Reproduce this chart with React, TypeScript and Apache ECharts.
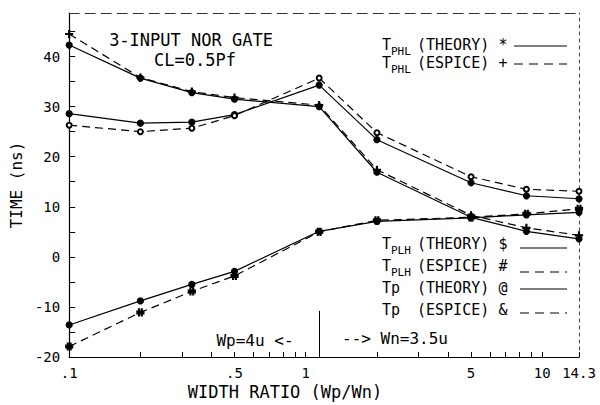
import React, { useEffect, useRef } from "react";
import * as echarts from "echarts";

// ---- data ----
const widthRatios = [0.1, 0.2, 0.33, 0.5, 1.14, 2, 5, 8.57, 14.3];
const tphlTheory = [42.3, 35.7, 32.8, 31.5, 30.0, 16.9, 7.9, 5.1, 3.6];
const tphlEspice = [44.5, 35.8, 33.0, 31.8, 30.3, 17.4, 8.3, 5.8, 4.3];
const tplhTheory = [-13.6, -8.8, -5.5, -2.9, 5.1, 7.1, 7.8, 8.4, 8.9];
const tplhEspice = [-17.9, -11.1, -6.9, -3.8, 5.0, 7.3, 7.9, 8.6, 9.6];
const tpTheory = [28.6, 26.7, 26.9, 28.4, 34.3, 23.4, 14.8, 12.2, 11.6];
const tpEspice = [26.3, 25.0, 25.7, 28.2, 35.7, 24.8, 16.0, 13.5, 13.1];

const xLabelValues = [0.1, 0.5, 1, 5, 10, 14.3];
const xTickValues = [0.1, 0.2, 0.3, 0.4, 0.5, 0.6, 0.7, 0.8, 0.9, 1, 2, 3, 4, 5, 6, 7, 8, 9, 10, 14.3];
const yMin = -20;
const yMax = 48.7;
const yTickStep = 5;
const yLabelStep = 10;
const switchRatio = 1.14;
const switchMarkTop = -10.8;

const FONT = '"DejaVu Sans Mono", "Liberation Mono", monospace';

const pairs = (ys: number[]) => widthRatios.map((x, i) => [x, ys[i]]);

export default function App() {
  const ref = useRef<HTMLDivElement>(null);
  useEffect(() => {
    if (!ref.current) return;
    const chart = echarts.init(ref.current, undefined, { renderer: "svg" });
    const solid = { color: "#000", width: 1.2, type: "solid" as const };
    const dashed = { color: "#000", width: 1.2, type: [8, 5] as any };
    const plusPath = "path://M-0.4,-3H0.4V-0.4H3V0.4H0.4V3H-0.4V0.4H-3V-0.4H-0.4Z";
    const hashPath =
      "path://M-1.6,-3H-0.8V-1.2H0.8V-3H1.6V-1.2H3V-0.4H1.6V0.4H3V1.2H1.6V3H0.8V1.2H-0.8V3H-1.6V1.2H-3V0.4H-1.6V-0.4H-3V-1.2H-1.6Z";

    const mkSeries = (name: string, ys: number[], ls: any, symbol: string, size: number, extra: any = {}) => ({
      name,
      type: "line",
      data: pairs(ys),
      lineStyle: ls,
      symbol,
      symbolSize: size,
      itemStyle: { color: "#000", borderColor: "#000", borderWidth: 1.2 },
      ...extra,
    });

    const legendFont = "15px " + FONT;
    const subFont = "11px " + FONT;
    const txt = (text: string, x: number, y: number, font: string, align = "left") => ({
      type: "text",
      x,
      y,
      style: { text, font, fill: "#000", align, verticalAlign: "middle" },
      silent: true,
    });
    const ln = (x1: number, x2: number, y: number, dash: boolean) => ({
      type: "line",
      shape: { x1, y1: y, x2, y2: y },
      style: { stroke: "#000", lineWidth: 1, lineDash: dash ? [9, 6] : null },
      silent: true,
    });

    const legendRows = [
      { y: 45, main: "T", sub: "PHL", kind: "(THEORY)", mark: "*", dash: false, lineY: 46 },
      { y: 63, main: "T", sub: "PHL", kind: "(ESPICE)", mark: "+", dash: true, lineY: 64 },
      { y: 244, main: "T", sub: "PLH", kind: "(THEORY)", mark: "$", dash: false, lineY: 248 },
      { y: 266, main: "T", sub: "PLH", kind: "(ESPICE)", mark: "#", dash: true, lineY: 272 },
      { y: 288, main: "Tp", sub: "", kind: "(THEORY)", mark: "@", dash: false, lineY: 289 },
      { y: 310, main: "Tp", sub: "", kind: "(ESPICE)", mark: "&", dash: true, lineY: 313 },
    ];
    const legendGraphics: any[] = [];
    legendRows.forEach((r, i) => {
      legendGraphics.push(txt(r.main, 382, r.y, legendFont));
      if (r.sub) legendGraphics.push(txt(r.sub, 391, r.y + 6, subFont));
      legendGraphics.push(txt(r.kind, 417, r.y, legendFont));
      legendGraphics.push(txt(r.mark, 503, r.y, legendFont, "center"));
      legendGraphics.push(ln(i < 2 ? 514 : 520, 567, r.lineY, r.dash));
    });

    chart.setOption({
      animation: false,
      backgroundColor: "#fff",
      grid: { left: 62, right: 21, top: 13, bottom: 48 },
      xAxis: [
        {
          type: "log",
          logBase: 10,
          min: widthRatios[0],
          max: widthRatios[widthRatios.length - 1],
          axisLine: { onZero: false, lineStyle: { color: "#000", width: 1.2 } },
          axisTick: { inside: true, length: 5, customValues: xTickValues, lineStyle: { color: "#000" } },
          minorTick: { show: false },
          splitLine: { show: false },
          axisLabel: {
            customValues: xLabelValues,
            color: "#000",
            fontFamily: FONT,
            fontSize: 14,
            margin: 9,
            formatter: (v: number) => String(v).replace(/^0\./, "."),
          },
        },
        {
          type: "value",
          position: "top",
          min: 0,
          max: 1,
          axisLine: { show: true, onZero: false, lineStyle: { color: "#333", width: 1, type: [10, 6] } },
          axisTick: { show: false },
          axisLabel: { show: false },
          splitLine: { show: false },
        },
      ],
      yAxis: [
        {
          type: "value",
          min: yMin,
          max: yMax,
          interval: yTickStep,
          name: "TIME (ns)",
          nameLocation: "middle",
          nameGap: 36,
          nameRotate: 90,
          nameTextStyle: { color: "#000", fontFamily: FONT, fontSize: 16 },
          axisLine: { show: true, onZero: false, lineStyle: { color: "#000", width: 1.2 } },
          axisTick: { show: true, inside: true, length: 6, lineStyle: { color: "#000" } },
          splitLine: { show: false },
          axisLabel: {
            color: "#000",
            fontFamily: FONT,
            fontSize: 14,
            margin: 9,
            showMaxLabel: false,
            formatter: (v: number) => (Math.abs(v % yLabelStep) < 1e-9 ? String(v) : ""),
          },
        },
        {
          type: "value",
          position: "right",
          min: 0,
          max: 1,
          axisLine: { show: true, onZero: false, lineStyle: { color: "#444", width: 1, type: [3, 4] } },
          axisTick: { show: false },
          axisLabel: { show: false },
          splitLine: { show: false },
        },
      ],
      series: [
        mkSeries("TPHL (THEORY)", tphlTheory, solid, "circle", 6),
        mkSeries("TPHL (ESPICE)", tphlEspice, dashed, plusPath, 7),
        mkSeries("TPLH (THEORY)", tplhTheory, solid, "circle", 6, {
          markLine: {
            silent: true,
            symbol: "none",
            label: { show: false },
            lineStyle: { color: "#000", width: 1, type: "solid" },
            data: [[{ coord: [switchRatio, switchMarkTop] }, { coord: [switchRatio, yMin] }]],
          },
        }),
        mkSeries("TPLH (ESPICE)", tplhEspice, dashed, hashPath, 7),
        mkSeries("Tp (THEORY)", tpTheory, solid, "circle", 6),
        mkSeries("Tp (ESPICE)", tpEspice, dashed, "emptyCircle", 5),
      ],
      graphic: [
        txt("3-INPUT NOR GATE", 191, 40, "17px " + FONT, "center"),
        txt("CL=0.5Pf", 195, 60, "17px " + FONT, "center"),
        txt("Wp=4u <-", 255, 340, "16px " + FONT, "center"),
        txt("--> Wn=3.5u", 395, 338, "16px " + FONT, "center"),
        txt("WIDTH RATIO (Wp/Wn)", 285, 392, "17px " + FONT, "center"),
        ...legendGraphics,
      ],
    });
    return () => chart.dispose();
  }, []);
  return <div ref={ref} style={{ width: 600, height: 405, position: "absolute", left: 0, top: 0 }} />;
}
